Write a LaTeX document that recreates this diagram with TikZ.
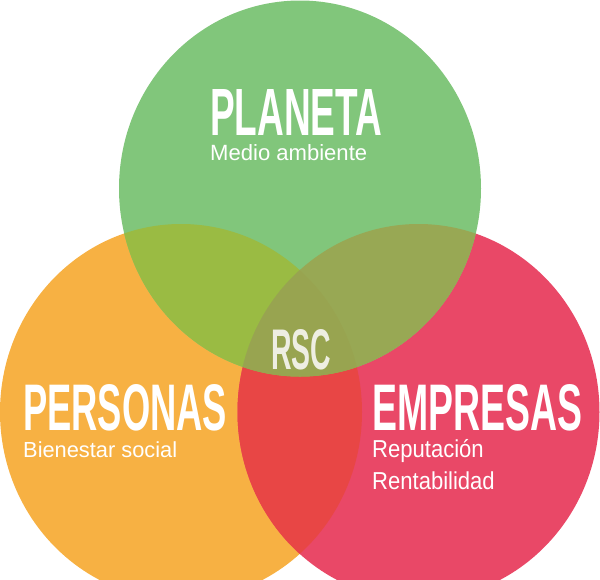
\documentclass[tikz,border=0pt]{standalone}
\usepackage{fontspec}
\setmainfont{Liberation Sans}
\usepackage{graphicx}
\definecolor{cgreen}{HTML}{81C67B}
\definecolor{corange}{HTML}{F7B143}
\definecolor{cred}{HTML}{E94867}
\definecolor{cgo}{HTML}{9ABB43}
\definecolor{cgr}{HTML}{98A854}
\definecolor{cor}{HTML}{E84645}
\definecolor{cctr}{HTML}{98A450}
\definecolor{rsctext}{HTML}{EEEEE2}
\tikzset{
  title/.style={anchor=base west, inner sep=0pt, text=white, font=\bfseries},
  sub/.style={anchor=base west, inner sep=0pt, text=white, font=\fontsize{24.5}{28}\selectfont},
  circ/.style={x radius=181pt, y radius=188pt},
}
\begin{document}
\begin{tikzpicture}[x=1pt,y=-1pt]
\useasboundingbox (0,0) rectangle (600,579);
\clip (0,0) rectangle (600,579);
\coordinate (cg) at (300,188.5);
\coordinate (co) at (181,412);
\coordinate (cr) at (418.5,412);
\fill[corange] (co) ellipse[circ];
\fill[cred] (cr) ellipse[circ];
\fill[cgreen] (cg) ellipse[circ];
\begin{scope}
  \clip (co) ellipse[circ];
  \fill[cor] (cr) ellipse[circ];
\end{scope}
\begin{scope}
  \clip (cg) ellipse[circ];
  \fill[cgo] (co) ellipse[circ];
  \fill[cgr] (cr) ellipse[circ];
  \clip (co) ellipse[circ];
  \fill[cctr] (cr) ellipse[circ];
\end{scope}
\node[title] (planeta) at (210,135) {\resizebox{172pt}{46pt}{PLANETA}};
\node[sub] (medio) at (210,160) {\resizebox{157pt}{!}{Medio ambiente}};
\node[title] (personas) at (23,430.5) {\resizebox{204pt}{46pt}{PERSONAS}};
\node[sub] (bienestar) at (23,457) {\resizebox{154pt}{!}{Bienestar social}};
\node[title] (empresas) at (372,430.5) {\resizebox{210pt}{46pt}{EMPRESAS}};
\node[sub] (reput) at (372,457) {\scalebox{0.9}[1]{Reputación}};
\node[sub] (rentab) at (372,489) {\scalebox{0.9}[1]{Rentabilidad}};
\node[title, text=rsctext] (rsc) at (271,369) {\resizebox{60pt}{40pt}{RSC}};
\end{tikzpicture}
\end{document}
